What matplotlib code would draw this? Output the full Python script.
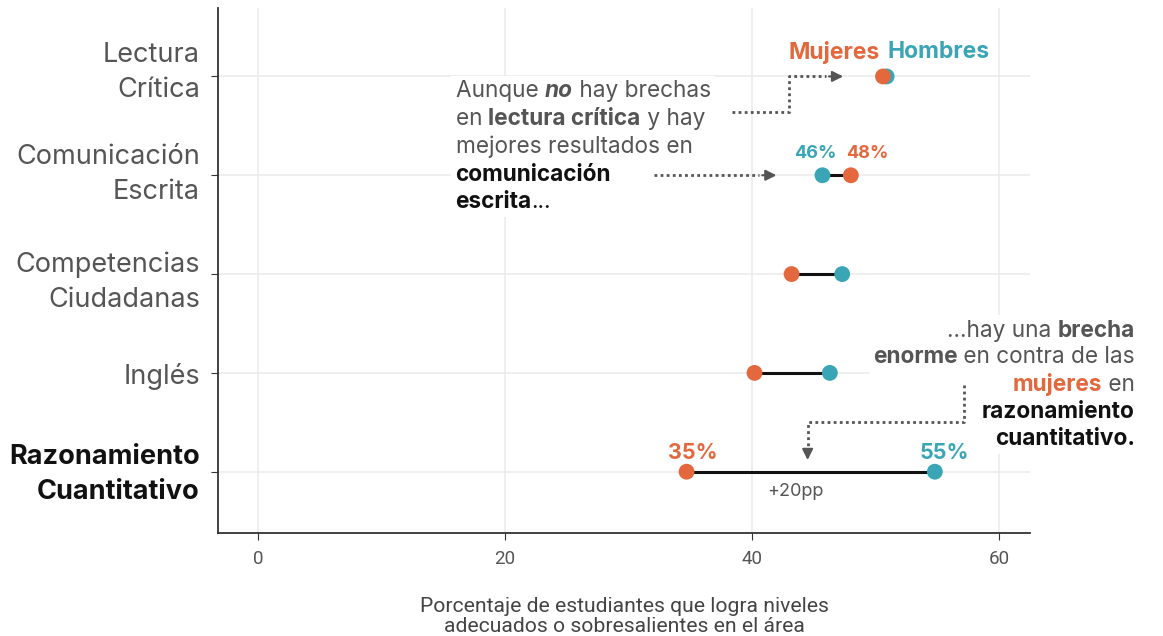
import matplotlib
matplotlib.use("Agg")
import matplotlib.pyplot as plt
import matplotlib.transforms as mtransforms
from matplotlib.offsetbox import TextArea, HPacker, VPacker, AnnotationBbox

plt.rcParams['font.family'] = ['Inter', 'DejaVu Sans']

# datos
categorias = ["Lectura\nCrítica", "Comunicación\nEscrita", "Competencias\nCiudadanas",
              "Inglés", "Razonamiento\nCuantitativo"]
mujeres = [50.6, 48.0, 43.2, 40.2, 34.7]
hombres = [50.9, 45.7, 47.3, 46.3, 54.8]
xticks = [0, 20, 40, 60]

naranja = "#E4683D"
verde = "#3AA6B5"
gris = "#555555"

fig = plt.figure(figsize=(11.63, 6.36), dpi=100)
ax = fig.add_axes([0.1874, 0.162, 0.6982, 0.825])

ypos = list(range(len(categorias)))

# lineas entre puntos
for y, m, h in zip(ypos, mujeres, hombres):
    ax.plot([m, h], [y, y], color="#111111", lw=2.2, zorder=3)
ax.scatter(hombres, ypos, s=130, color=verde, zorder=4, edgecolor="none")
ax.scatter(mujeres, ypos, s=130, color=naranja, zorder=5, edgecolor="none")

ax.set_xlim(-3.24, 62.5)
ax.set_ylim(4.62, -0.69)
ax.set_xticks(xticks)
ax.set_xticklabels([str(t) for t in xticks], fontsize=13.5, color=gris, family="Roboto")
ax.set_yticks(ypos)
ax.set_yticklabels(categorias, fontsize=19.5, color=gris, linespacing=1.45)
lbl = ax.get_yticklabels()[-1]
lbl.set_color("#111111")
lbl.set_fontweight("bold")
ax.tick_params(axis="y", length=5, pad=8, color="#333333")
ax.tick_params(axis="x", length=5, pad=7, color="#333333")
# pequeños ajustes verticales de las etiquetas (en pixeles, positivo = arriba)
ajustes = [11, 8, -1, -1, 5]
for t, dy in zip(ax.get_yticklabels(), ajustes):
    t.set_transform(t.get_transform() + mtransforms.Affine2D().translate(0, dy))
ax.grid(True, color="#ebebeb", lw=1.1, zorder=0)
ax.set_axisbelow(True)
for s in ["top", "right"]:
    ax.spines[s].set_visible(False)
for s in ["left", "bottom"]:
    ax.spines[s].set_color("#333333")
    ax.spines[s].set_linewidth(1.3)

ax.set_xlabel("Porcentaje de estudiantes que logra niveles\nadecuados o sobresalientes en el área",
              fontsize=15.2, color="#444444", family="Roboto", labelpad=21, linespacing=1.1)

# etiquetas de valores
etq = dict(textcoords="offset pixels", ha="center", va="center", fontweight="bold", zorder=8)
ax.annotate(f"{hombres[1]:.0f}%", (hombres[1], 1), xytext=(-7, 22), color=verde, fontsize=13, **etq)
ax.annotate(f"{mujeres[1]:.0f}%", (mujeres[1], 1), xytext=(16, 22), color=naranja, fontsize=13, **etq)
ax.annotate(f"{mujeres[4]:.0f}%", (mujeres[4], 4), xytext=(6, 19), color=naranja, fontsize=15.5, **etq)
ax.annotate(f"{hombres[4]:.0f}%", (hombres[4], 4), xytext=(10, 19), color=verde, fontsize=15.5, **etq)
ax.annotate(f"+{hombres[4] - mujeres[4]:.0f}pp", ((mujeres[4] + hombres[4]) / 2, 4),
            xytext=(-15, -20), textcoords="offset pixels",
            ha="center", va="center", color=gris, fontsize=13)

# leyenda arriba
ax.annotate("Mujeres", (mujeres[0], 0), xytext=(-3, 24), textcoords="offset pixels",
            ha="right", va="center", color=naranja, fontsize=16.5, fontweight="bold")
ax.annotate("Hombres", (mujeres[0], 0), xytext=(5, 24), textcoords="offset pixels",
            ha="left", va="center", color=verde, fontsize=16.5, fontweight="bold")


def linea(partes, fs=16.3):
    cajas = []
    for txt, props in partes:
        p = dict(fontsize=fs, color=gris)
        p.update(props)
        cajas.append(TextArea(txt, textprops=p))
    return HPacker(children=cajas, pad=0, sep=0, align="baseline")


B = dict(fontweight="bold")
N = dict(color="#111111")
NB = dict(color="#111111", fontweight="bold")

texto1 = VPacker(children=[
    linea([("Aunque ", {}), ("no", dict(fontweight="bold", fontstyle="italic")), (" hay brechas", {})]),
    linea([("en ", {}), ("lectura crítica", B), (" y hay", {})]),
    linea([("mejores resultados en", {})]),
    linea([("comunicación", NB)]),
    linea([("escrita", NB), ("...", N)]),
], pad=0, sep=4, align="left")
ab1 = AnnotationBbox(texto1, (16.0, 0.04), xycoords="data", box_alignment=(0, 1),
                     frameon=True, pad=0.3, annotation_clip=False,
                     bboxprops=dict(facecolor="white", edgecolor="none"))
ab1.set_zorder(6)
ax.add_artist(ab1)

texto2 = VPacker(children=[
    linea([("...hay una ", {}), ("brecha", B)]),
    linea([("enorme", B), (" en contra de las", {})]),
    linea([("mujeres", dict(color=naranja, fontweight="bold")), (" en", {})]),
    linea([("razonamiento", NB)]),
    linea([("cuantitativo.", NB)]),
], pad=0, sep=3.5, align="right")
ab2 = AnnotationBbox(texto2, (71.0, 2.46), xycoords="data", box_alignment=(1, 1),
                     frameon=True, pad=0.3, annotation_clip=False,
                     bboxprops=dict(facecolor="white", edgecolor="none"))
ab2.set_zorder(6)
ax.add_artist(ab2)

# flechas punteadas (encima de los cuadros de texto)
flecha = dict(color=gris, lw=2, linestyle=(0, (1, 1.2)), zorder=7)
flecha_punta = dict(arrowstyle="-|>", color=gris, lw=1.5, mutation_scale=16)
ax.plot([38.4, 43.0, 43.0, 46.0], [0.36, 0.36, 0.0, 0.0], **flecha)
ax.annotate("", xy=(47.6, 0), xytext=(46.0, 0), arrowprops=flecha_punta, zorder=7)
ax.plot([32.1, 40.6], [1, 1], **flecha)
ax.annotate("", xy=(42.2, 1), xytext=(40.6, 1), arrowprops=flecha_punta, zorder=7)
ax.plot([57.2, 57.2, 44.5, 44.5], [3.12, 3.5, 3.5, 3.75], **flecha)
ax.annotate("", xy=(44.5, 3.91), xytext=(44.5, 3.75), arrowprops=flecha_punta, zorder=7)

fig.savefig("out.png", dpi=100)
